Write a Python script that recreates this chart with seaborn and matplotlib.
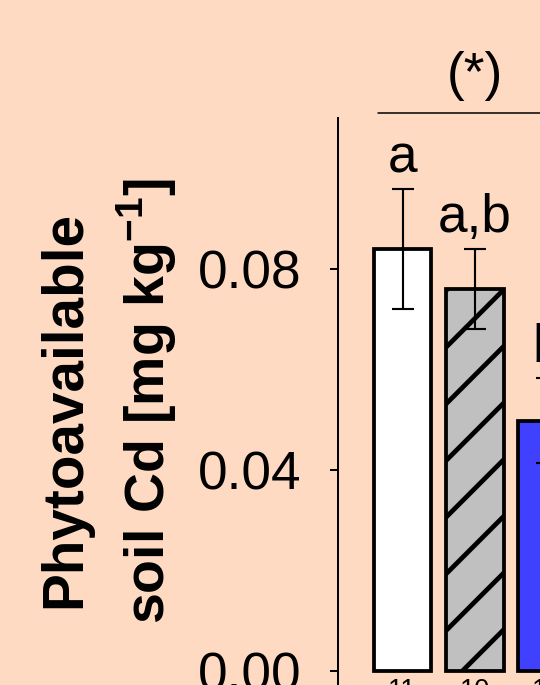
import matplotlib.pyplot as plt
import seaborn as sns
import pandas as pd

# values
treatments = ["Control", "Treatment 1", "Treatment 2"]
cd_mean = [0.084, 0.076, 0.0498]
cd_err = [0.012, 0.008, 0.0085]
letters = ["a", "a,b", "b"]
n_samples = ["11", "10", "12"]
y_ticks = [0.00, 0.04, 0.08]

bar_colors = ["#FFFFFF", "#C0C0C0", "#4040FF"]
bar_hatches = ["", "/", ""]
bg = "#FFDAC2"

DPI = 170
W, H = 540, 685

sns.set_style("white")
plt.rcParams["font.family"] = ["Liberation Sans", "DejaVu Sans"]
plt.rcParams["text.color"] = "black"
plt.rcParams["ytick.color"] = "black"
plt.rcParams["axes.labelcolor"] = "black"
plt.rcParams["mathtext.fontset"] = "custom"
plt.rcParams["mathtext.rm"] = "Liberation Sans"
plt.rcParams["mathtext.bf"] = "Liberation Sans:bold"
plt.rcParams["hatch.linewidth"] = 2.0
plt.rcParams["hatch.color"] = "black"

fig = plt.figure(figsize=(W / DPI, H / DPI), dpi=DPI, facecolor=bg)
ax = fig.add_axes([338 / W, 0.0, 0.455, 567 / H])
ax.set_facecolor(bg)

df = pd.DataFrame({"treatment": treatments, "cd": cd_mean})
sns.barplot(data=df, x="treatment", y="cd", hue="treatment", palette=bar_colors,
            legend=False, width=0.8, edgecolor="black", linewidth=1.6,
            saturation=1, errorbar=None, ax=ax)
for patch, h in zip(ax.patches, bar_hatches):
    patch.set_hatch(h)

xs = list(range(len(treatments)))
ax.errorbar(xs, cd_mean, yerr=cd_err, fmt="none", ecolor="black",
            elinewidth=0.9, capsize=4.7, capthick=0.9, zorder=5, clip_on=False)

# significance letters above the caps
for x, m, e, lab in zip(xs, cd_mean, cd_err, letters):
    ax.text(x, m + e + 0.0033, lab, ha="center", va="baseline",
            fontsize=22.5, clip_on=False)

# sample sizes under the bars
for x, n in zip(xs, n_samples):
    ax.text(x, -0.0014, n, ha="center", va="top", fontsize=11.5, clip_on=False)

# bracket with (*)
ax.plot([-0.34, 2.34], [0.111, 0.111], color="black", lw=0.65, clip_on=False)
ax.text(1.0, 0.1156, "(*)", ha="center", va="baseline", fontsize=22.5, clip_on=False)

ax.set_xlim(-0.89, 2.5)
ax.set_ylim(-0.00279, 0.11005)
ax.set_yticks(y_ticks)
ax.yaxis.set_major_formatter("{x:.2f}")
ax.set_xticks([])
ax.set_xlabel("")
ax.set_ylabel("")
ax.tick_params(axis="y", direction="out", length=3.4, width=0.85,
               labelsize=22.5, pad=12, left=True, colors="black")

for side in ["top", "right", "bottom"]:
    ax.spines[side].set_visible(False)
ax.spines["left"].set_linewidth(0.85)
ax.spines["left"].set_color("black")

fig.text(80 / W, 1 - 410 / H, "Phytoavailable", rotation=90, rotation_mode="anchor",
         ha="center", va="baseline", fontsize=24, fontweight="bold")
fig.text(165 / W, 1 - 401 / H, r"soil Cd [mg kg$^{\mathbf{-1}}$]", rotation=90,
         rotation_mode="anchor", ha="center", va="baseline", fontsize=23.5,
         fontweight="bold")

fig.savefig("out.png", dpi=DPI, facecolor=bg)
